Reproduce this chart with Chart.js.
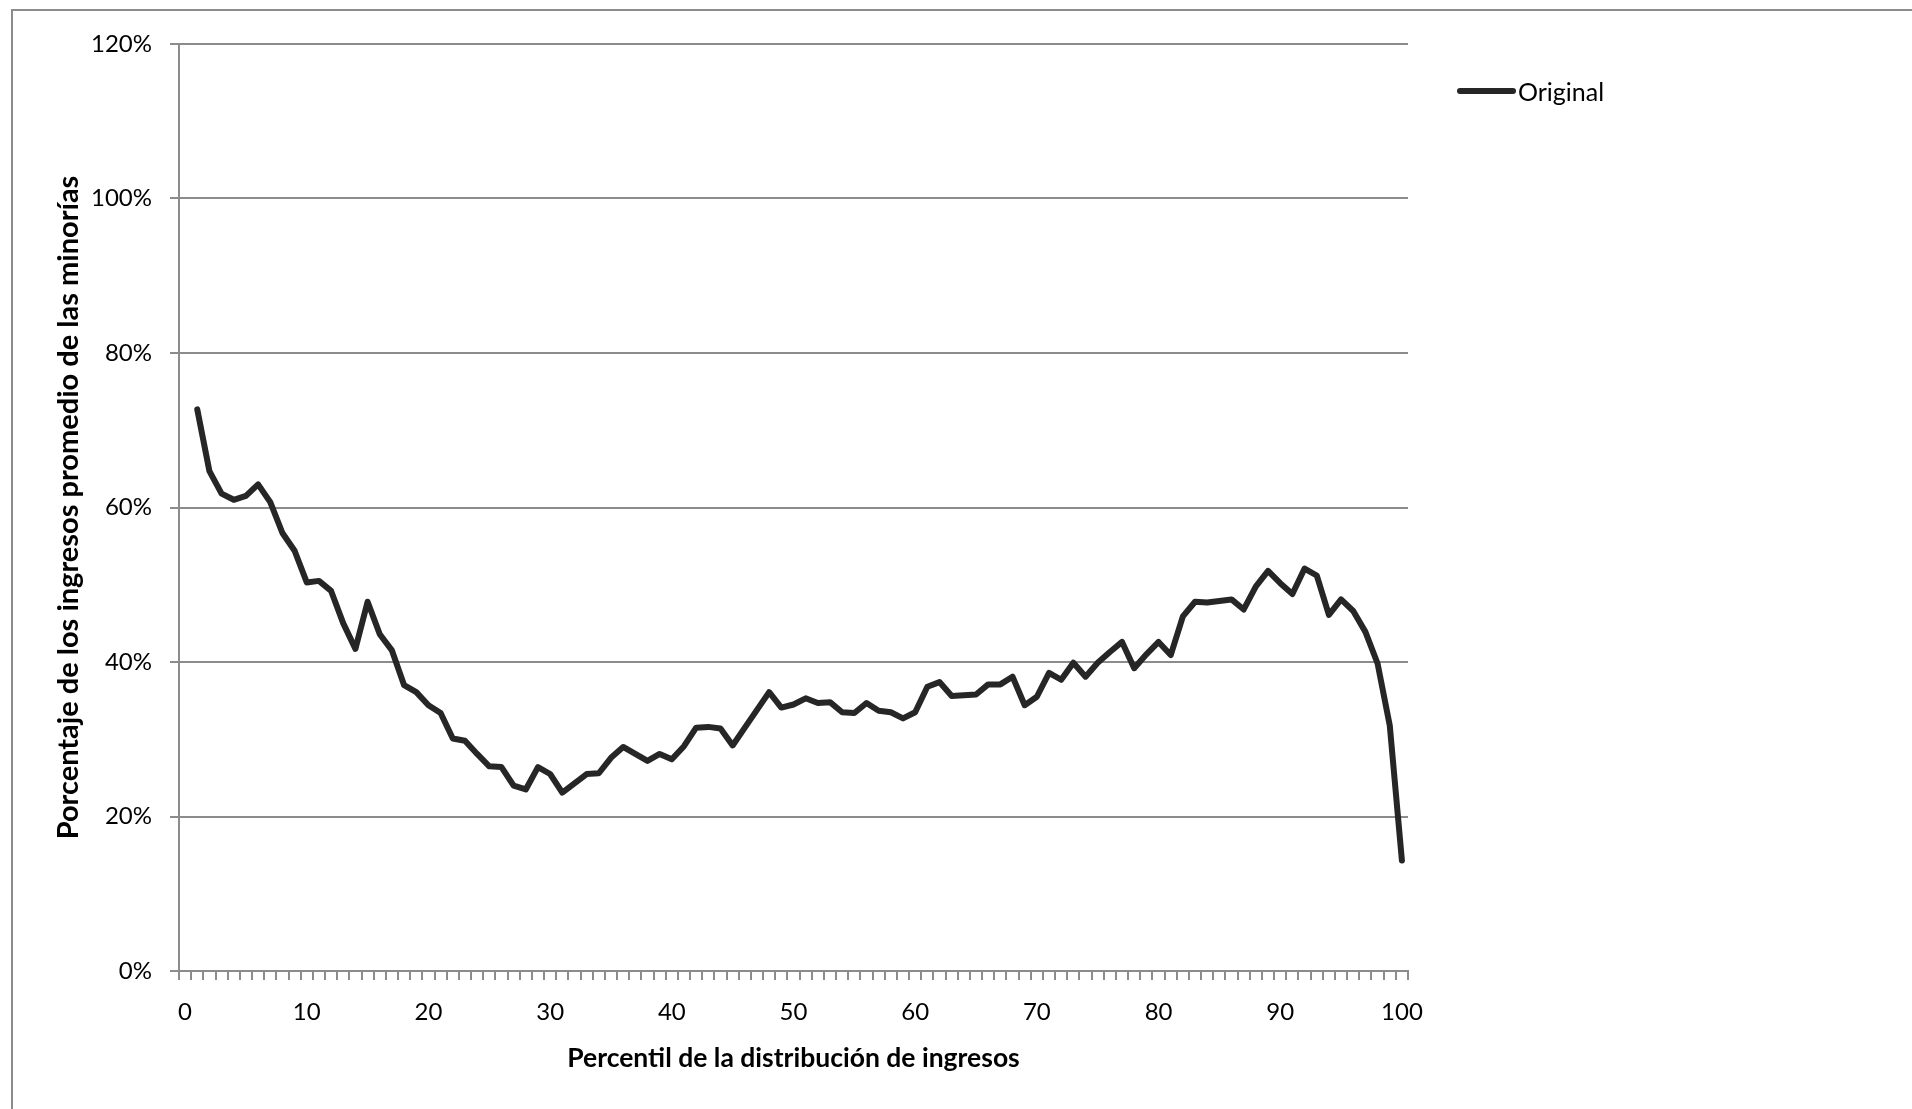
<!DOCTYPE html>
<html>
<head>
<meta charset="utf-8">
<script src="https://cdn.jsdelivr.net/npm/chart.js@4.4.1/dist/chart.umd.min.js"></script>
<style>
    body { margin: 0; overflow: hidden; background: #fff; }
    .frame {
        position: absolute; left: 11px; top: 9px; width: 2000px; height: 1200px;
        border: 2px solid #8c8c8c; box-sizing: border-box;
    }
    #statsChart { position: absolute; left: 0; top: 0; }
    .legend {
        position: absolute; left: 1457px; top: 75px; height: 32px;
        display: flex; align-items: center;
        font-family: Lato, sans-serif; font-size: 25px; color: #000;
    }
    .legend__line {
        display: inline-block; width: 59px; height: 6px; border-radius: 3px;
        background: #262626; margin-right: 2px;
    }
</style>
</head>
<body>
<div class="frame"></div>
<canvas id="statsChart" width="1912" height="1109"></canvas>
<div class="legend" id="legend"></div>
<script>
// percentil 0..100 (categoria 0 vacia)
const percentiles = [];
for (let p = 0; p <= 100; p++) percentiles.push(String(p));

const seriesName = 'Original';
const seriesValues = [
    null,
    72.7, 64.7, 61.8, 61.0, 61.5, 63.0, 60.7, 56.7, 54.4, 50.3,
    50.5, 49.2, 45.0, 41.7, 47.8, 43.6, 41.5, 37.0, 36.1, 34.4,
    33.4, 30.1, 29.8, 28.1, 26.5, 26.4, 24.0, 23.5, 26.4, 25.5,
    23.1, 24.3, 25.5, 25.6, 27.6, 29.0, 28.1, 27.2, 28.1, 27.4,
    29.1, 31.5, 31.6, 31.4, 29.2, 31.5, 33.8, 36.1, 34.1, 34.5,
    35.3, 34.7, 34.8, 33.5, 33.4, 34.7, 33.7, 33.5, 32.7, 33.5,
    36.8, 37.4, 35.6, 35.7, 35.8, 37.1, 37.1, 38.1, 34.4, 35.5,
    38.6, 37.7, 39.9, 38.1, 39.9, 41.3, 42.6, 39.2, 41.0, 42.6,
    40.9, 45.9, 47.8, 47.7, 47.9, 48.1, 46.8, 49.8, 51.8, 50.2,
    48.8, 52.1, 51.2, 46.1, 48.1, 46.6, 43.9, 39.8, 31.8, 14.3
];

const yTicks = [0, 20, 40, 60, 80, 100, 120];

const xTitle = 'Percentil de la distribución de ingresos';
const yTitle = 'Porcentaje de los ingresos promedio de las minorías';

document.addEventListener('DOMContentLoaded', function () {
    const gridColor = '#8c8c8c';
    const tickFont = { family: 'Lato', size: 24 };

    const legend = document.getElementById('legend');
    legend.innerHTML = `<span class="legend__line"></span><span>${seriesName}</span>`;

    const ctx = document.getElementById('statsChart').getContext('2d');
    new Chart(ctx, {
        type: 'line',
        data: {
            labels: percentiles,
            datasets: [{
                label: seriesName,
                data: seriesValues,
                borderColor: '#262626',
                borderWidth: 6,
                borderJoinStyle: 'round',
                borderCapStyle: 'round',
                pointRadius: 0,
                tension: 0,
                fill: false
            }]
        },
        options: {
            responsive: false,
            animation: false,
            events: [],
            layout: {
                padding: { left: 0, top: 44, right: 504, bottom: 0 }
            },
            plugins: {
                legend: { display: false },
                tooltip: { enabled: false }
            },
            scales: {
                x: {
                    type: 'category',
                    offset: true,
                    grid: {
                        offset: true,
                        drawOnChartArea: false,
                        drawTicks: true,
                        tickLength: 9,
                        color: gridColor,
                        lineWidth: 2
                    },
                    border: { display: true, color: gridColor, width: 2 },
                    ticks: {
                        autoSkip: false,
                        maxRotation: 0,
                        padding: 18,
                        color: '#000',
                        font: tickFont,
                        callback: function (value, index) {
                            return index % 10 === 0 ? percentiles[index] : '';
                        }
                    },
                    title: {
                        display: true,
                        text: xTitle,
                        color: '#000',
                        font: { family: 'Lato', size: 26.5, weight: 'bold' },
                        padding: { top: 0, bottom: 35 }
                    },
                    afterFit: function (scale) { scale.height = 138; }
                },
                y: {
                    min: 0,
                    max: 120,
                    afterBuildTicks: function (scale) {
                        scale.ticks = yTicks.map(v => ({ value: v }));
                    },
                    grid: {
                        color: gridColor,
                        lineWidth: 2,
                        drawTicks: true,
                        tickLength: 9
                    },
                    border: { display: true, color: gridColor, width: 2 },
                    ticks: {
                        padding: 18,
                        color: '#000',
                        font: tickFont,
                        callback: value => value + '%'
                    },
                    title: {
                        display: true,
                        text: yTitle,
                        color: '#000',
                        font: { family: 'Lato', size: 29, weight: 'bold' },
                        padding: { top: 51, bottom: 0 }
                    },
                    afterFit: function (scale) { scale.width = 179; }
                }
            }
        }
    });
});
</script>
</body>
</html>
